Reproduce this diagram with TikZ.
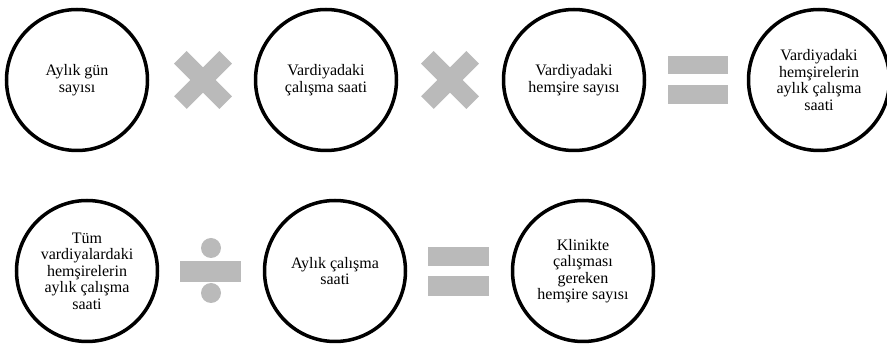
\documentclass[tikz,border=0pt]{standalone}
\usepackage{fontspec}
\setmainfont{Liberation Serif}
\definecolor{opgray}{RGB}{186,186,186}
\begin{document}
\begin{tikzpicture}[x=1pt,y=-1pt,
  term/.style={circle,draw=black,line width=3.5pt,minimum size=141pt,inner sep=0pt,
    align=center,font=\fontsize{16}{16.5}\selectfont},
  opfill/.style={fill=opgray}]
\useasboundingbox (0,0) rectangle (887,344);
% row 1
\node[term] (c1) at (77,80) {Aylık gün\\sayısı};
\node[term] (c2) at (326,80) {Vardiyadaki\\çalışma saati};
\node[term] (c3) at (574,80) {Vardiyadaki\\hemşire sayısı};
\node[term] (c4) at (819,80) {Vardiyadaki\\hemşirelerin\\aylık çalışma\\saati};
% row 2
\node[term] (c5) at (87,271) {Tüm\\vardiyalardaki\\hemşirelerin\\aylık çalışma\\saati};
\node[term] (c6) at (335,271) {Aylık çalışma\\saati};
\node[term] (c7) at (583,271) {Klinikte\\çalışması\\gereken\\hemşire sayısı};
% multiplication signs
\foreach \cx in {203,450}{
  \fill[opfill, rotate around={45:(\cx,80)}] (\cx-32,71) rectangle (\cx+32,89);
  \fill[opfill, rotate around={-45:(\cx,80)}] (\cx-32,71) rectangle (\cx+32,89);
}
% equals signs
\fill[opfill] (668,56) rectangle (728,74);
\fill[opfill] (668,85) rectangle (728,104);
\fill[opfill] (428,247) rectangle (489,266);
\fill[opfill] (428,276) rectangle (489,296);
% division sign
\fill[opfill] (180,261) rectangle (241,282);
\fill[opfill] (211,248) circle[radius=10];
\fill[opfill] (211,293) circle[radius=10];
\end{tikzpicture}
\end{document}
